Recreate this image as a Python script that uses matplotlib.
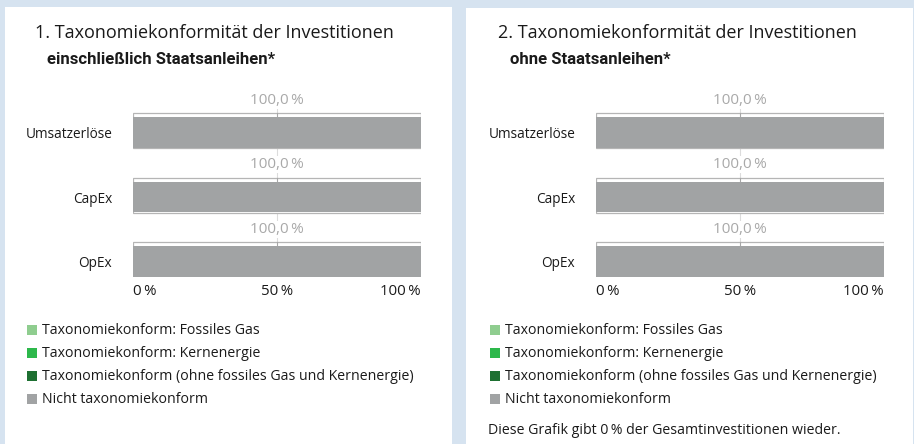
import matplotlib.pyplot as plt
from matplotlib.patches import Rectangle

plt.rcParams['font.family'] = ['Open Sans', 'DejaVu Sans']

# Daten
kategorien = ['Umsatzerlöse', 'CapEx', 'OpEx']
fossiles_gas = [0, 0, 0]
kernenergie = [0, 0, 0]
taxonomiekonform = [0, 0, 0]
nicht_konform_mit = [100.0, 100.0, 100.0]
nicht_konform_ohne = [100.0, 100.0, 100.0]

legende = ['Taxonomiekonform: Fossiles Gas',
           'Taxonomiekonform: Kernenergie',
           'Taxonomiekonform (ohne fossiles Gas und Kernenergie)',
           'Nicht taxonomiekonform']
farben = ['#8fcd8f', '#2db84b', '#1e7032', '#a1a3a4']

titel = ['1. Taxonomiekonformität der Investitionen',
         '2. Taxonomiekonformität der Investitionen']
titel_fett = ['einschließlich Staatsanleihen*', 'ohne Staatsanleihen*']
fussnote = 'Diese Grafik gibt 0\u2009% der Gesamtinvestitionen wieder.'

W, H = 914, 444
fig = plt.figure(figsize=(W / 100, H / 100), dpi=100, facecolor='#d6e3f0')


def fx(x):
    return x / W


def fy(y):
    return 1 - y / H


def prozent(v):
    return f'{v:.1f}'.replace('.', ',') + '\u2009%'


# weisse Felder
for x0, x1, y0 in [(5, 452, 7), (466, 913, 8)]:
    fig.patches.append(Rectangle((fx(x0), 0), fx(x1 - x0), fy(y0),
                                 transform=fig.transFigure, facecolor='white',
                                 edgecolor='none', zorder=-5))

reihen = [nicht_konform_mit, nicht_konform_ohne]
offsets = [0, 463]
fs = 10.2

for i in range(2):
    dx = offsets[i]
    fig.text(fx(35 + dx), fy(33), titel[i], fontsize=13, color='#1a1a1a',
             va='center', ha='left')
    fig.text(fx(47 + dx), fy(60), titel_fett[i], fontsize=12, color='#1a1a1a',
             fontweight='bold', family=['Roboto', 'DejaVu Sans'],
             va='center', ha='left')

    ax = fig.add_axes([fx(133 + dx), fy(277), fx(288), (277 - 92) / H])
    ax.set_facecolor('none')
    y = list(range(len(kategorien)))

    # Rahmen
    ax.barh([v - 0.03 for v in y], [100] * 3, height=0.543, color='white',
            edgecolor='#b5b5b5', linewidth=0.9, zorder=1)
    ax.axvline(50, color='#dcdcdc', linewidth=0.8, zorder=0.5)
    for v in y:
        ax.plot([50, 50], [v - 0.3, v - 0.2], color='#a8a8a8', linewidth=0.8,
                zorder=1.5)

    links = [0, 0, 0]
    for werte, farbe in zip([fossiles_gas, kernenergie, taxonomiekonform, reihen[i]], farben):
        ax.barh(y, werte, left=links, height=0.48, color=farbe, zorder=2)
        links = [a + b for a, b in zip(links, werte)]

    for yy, v in zip(y, reihen[i]):
        ax.text(50, yy - 0.5, prozent(v), ha='center', va='center',
                fontsize=11, color='#a9a9a9', zorder=0.8,
                bbox=dict(facecolor='white', edgecolor='none', pad=0.5))

    ax.set_xlim(0, 100)
    ax.set_ylim(2.24, -0.628)
    ax.set_yticks(y)
    ax.set_yticklabels(kategorien, fontsize=9.8, color='#1a1a1a')
    ax.set_xticks([0, 50, 100])
    ax.set_xticklabels(['0\u2009%', '50\u2009%', '100\u2009%'], fontsize=10.8,
                       color='#1a1a1a')
    lbls = ax.get_xticklabels()
    lbls[0].set_ha('left')
    lbls[2].set_ha('right')
    ax.tick_params(length=0)
    ax.tick_params(axis='y', pad=15)
    ax.tick_params(axis='x', pad=5)
    for s in ax.spines.values():
        s.set_visible(False)

    # Legende
    for k, (txt, farbe) in enumerate(zip(legende, farben)):
        yc = 330 + k * 23
        fig.patches.append(Rectangle((fx(27 + dx), fy(yc + 5)), fx(10), 10 / H,
                                     transform=fig.transFigure, facecolor=farbe,
                                     edgecolor='none', zorder=2))
        fig.text(fx(42 + dx), fy(yc), txt, fontsize=fs, color='#1a1a1a',
                 va='center', ha='left')

fig.text(fx(488), fy(430), fussnote, fontsize=fs, color='#1a1a1a',
         va='center', ha='left')

fig.savefig('out.png', dpi=100, facecolor=fig.get_facecolor())
